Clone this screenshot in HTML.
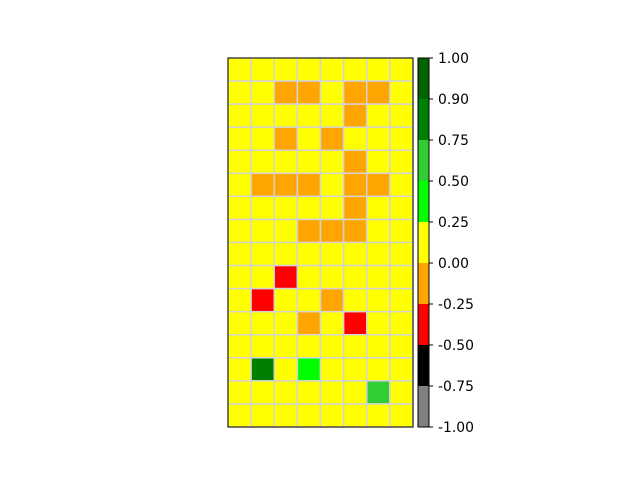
<!DOCTYPE html>
<html><head><meta charset="utf-8"><style>body{margin:0;background:#fff}svg text{font-family:"DejaVu Sans","Liberation Sans",sans-serif;font-size:13.9px}</style></head>
<body>
<svg id="c" width="640" height="480"></svg>
<script>
const boundaries=[-1,-0.75,-0.5,-0.25,0,0.25,0.5,0.75,0.9,1];
const colors=["#808080","#000000","#ff0000","#ffa500","#ffff00","#00ff00","#32cd32","#008000","#006400"];
const tickLabels=["-1.00","-0.75","-0.50","-0.25","0.00","0.25","0.50","0.75","0.90","1.00"];
const gridValues=[
[0.1,0.1,0.1,0.1,0.1,0.1,0.1,0.1],
[0.1,0.1,-0.1,-0.1,0.1,-0.1,-0.1,0.1],
[0.1,0.1,0.1,0.1,0.1,-0.1,0.1,0.1],
[0.1,0.1,-0.1,0.1,-0.1,0.1,0.1,0.1],
[0.1,0.1,0.1,0.1,0.1,-0.1,0.1,0.1],
[0.1,-0.1,-0.1,-0.1,0.1,-0.1,-0.1,0.1],
[0.1,0.1,0.1,0.1,0.1,-0.1,0.1,0.1],
[0.1,0.1,0.1,-0.1,-0.1,-0.1,0.1,0.1],
[0.1,0.1,0.1,0.1,0.1,0.1,0.1,0.1],
[0.1,0.1,-0.4,0.1,0.1,0.1,0.1,0.1],
[0.1,-0.4,0.1,0.1,-0.1,0.1,0.1,0.1],
[0.1,0.1,0.1,-0.1,0.1,-0.4,0.1,0.1],
[0.1,0.1,0.1,0.1,0.1,0.1,0.1,0.1],
[0.1,0.8,0.1,0.4,0.1,0.1,0.1,0.1],
[0.1,0.1,0.1,0.1,0.1,0.1,0.6,0.1],
[0.1,0.1,0.1,0.1,0.1,0.1,0.1,0.1]];
const svg=document.getElementById('c');const NS='http://www.w3.org/2000/svg';
function mk(t,a,p){const e=document.createElementNS(NS,t);for(const k in a)e.setAttribute(k,a[k]);(p||svg).appendChild(e);return e;}
function colorOf(v){for(let i=0;i<colors.length;i++){if(v<boundaries[i+1]||i==colors.length-1)return colors[i];}}
const X0=228,Y0=58,W=185,H=369,nr=gridValues.length,nc=gridValues[0].length;
const cw=W/nc,ch=H/nr;
gridValues.forEach((row,r)=>row.forEach((v,c)=>{
 const e=mk('rect',{x:X0+c*cw,y:Y0+r*ch,width:cw,height:ch,fill:colorOf(v),stroke:'#d3d3d3','stroke-width':1.5});
 
 
}));
const fr=mk('rect',{x:X0,y:Y0,width:W,height:H,fill:'none',stroke:'#000','stroke-width':1});


const CX=418,CW=11,seg=H/colors.length;
colors.forEach((col,i)=>{
 const e=mk('rect',{x:CX,y:Y0+H-(i+1)*seg,width:CW,height:seg,fill:col});
 
 
});
const cf=mk('rect',{x:CX,y:Y0,width:CW,height:H,fill:'none',stroke:'#000','stroke-width':1});


tickLabels.forEach((l,i)=>{
 const y=Y0+H-i*seg;
 mk('line',{x1:CX+CW,x2:CX+CW+4,y1:y,y2:y,stroke:'#000'});
 const t=mk('text',{x:CX+CW+9,y:y+5});t.textContent=l;
 
 
});
</script>
</body></html>
